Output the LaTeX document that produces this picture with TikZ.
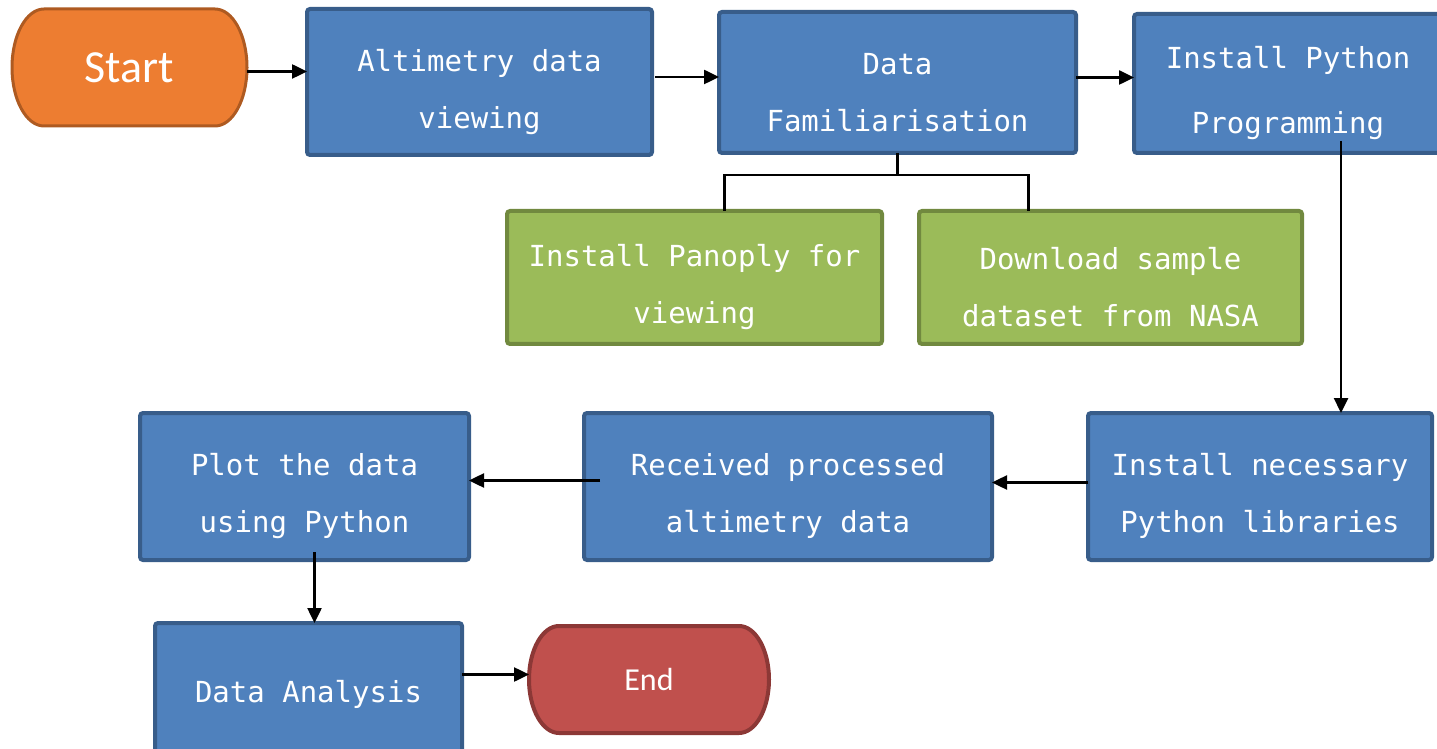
\documentclass[tikz,border=0pt]{standalone}
\usepackage{fontspec}
\setmainfont{DejaVu Sans Mono}
\newfontfamily\termfont{Carlito}
\usetikzlibrary{arrows.meta,shapes,backgrounds}
\definecolor{boxblue}{HTML}{4F81BD}
\definecolor{blueedge}{HTML}{385D8A}
\definecolor{boxgreen}{HTML}{9BBB59}
\definecolor{greenedge}{HTML}{71893F}
\definecolor{startorange}{HTML}{ED7D31}
\definecolor{startedge}{HTML}{AE5A21}
\definecolor{endred}{HTML}{C0504D}
\definecolor{endedge}{HTML}{8C3836}
\tikzset{
  flowbox/.style={
    rectangle, rounded corners=3pt, line width=4pt, text=white,
    align=center, inner sep=0pt, outer sep=0pt,
    font=\fontsize{29}{57}\selectfont,
  },
  %% two lines sit a bit low in the boxes
  twoline/.style={text height=#1},
  twoline/.default=99pt,
  bluebox/.style={flowbox, draw=blueedge, fill=boxblue},
  greenbox/.style={flowbox, twoline, draw=greenedge, fill=boxgreen},
  terminal/.style={rectangle, inner sep=0pt, outer sep=0pt, text=white},
  flowarrow/.style={-{Triangle[length=15pt,width=14pt]}, line width=2.5pt},
  forkline/.style={line width=2.5pt},
}

\begin{document}
\begin{tikzpicture}[x=1pt,y=1pt]
\path[use as bounding box, clip] (0,0) rectangle (1437,748);
% top row
\node [terminal, minimum width=235pt, minimum height=117pt, font=\termfont\fontsize{46}{50}\selectfont] (start) at (129.5,680.5) {Start};
\node [bluebox, twoline, minimum width=345pt, minimum height=146pt] (view) at (479.5,666) {Altimetry data\\viewing};
\node [bluebox, twoline, minimum width=357pt, minimum height=141pt] (famil) at (897.5,665.5) {Data\\Familiarisation};
\node [bluebox, twoline=107pt, minimum width=308pt, minimum height=139pt, font=\fontsize{29}{65}\selectfont] (python) at (1288,664.5) {Install Python\\Programming};
% sub tasks
\node [greenbox, minimum width=375pt, minimum height=133pt] (panoply) at (694.5,470.5) {Install Panoply for\\viewing};
\node [greenbox, minimum width=383pt, minimum height=133pt] (nasa) at (1110.5,470.5) {Download sample\\dataset from NASA};
% bottom rows
\node [bluebox, twoline, minimum width=344pt, minimum height=147pt] (libs) at (1260,261.5) {Install necessary\\Python libraries};
\node [bluebox, twoline, minimum width=408pt, minimum height=147pt] (received) at (788,261.5) {Received processed\\altimetry data};
\node [bluebox, twoline, minimum width=329pt, minimum height=147pt] (plot) at (304.5,261.5) {Plot the data\\using Python};
\node [bluebox, minimum width=307pt, minimum height=142pt] (analysis) at (308.5,54) {Data Analysis};
\node [terminal, minimum width=240pt, minimum height=107pt, font=\termfont\fontsize{32}{36}\selectfont] (end) at (649,68.5) {End};

\begin{scope}[on background layer]
\filldraw[fill=startorange, draw=startedge, line width=3pt]
  ([xshift=32pt]start.north west) -- ([xshift=-32pt]start.north east)
  arc[start angle=90, end angle=-90, x radius=32pt, y radius=58.5pt]
  -- ([xshift=32pt]start.south west)
  arc[start angle=270, end angle=90, x radius=32pt, y radius=58.5pt] -- cycle;
\filldraw[fill=endred, draw=endedge, line width=4pt]
  ([xshift=30pt]end.north west) -- ([xshift=-30pt]end.north east)
  arc[start angle=90, end angle=-90, x radius=30pt, y radius=53.5pt]
  -- ([xshift=30pt]end.south west)
  arc[start angle=270, end angle=90, x radius=30pt, y radius=53.5pt] -- cycle;
\end{scope}

% connectors
\draw[flowarrow] ([yshift=-4pt]start.east) -- ([yshift=-4pt]start.east -| view.west);
\draw[flowarrow] ([yshift=5pt,xshift=3pt]view.east) -- ([yshift=5pt]view.east -| famil.west);
\draw[flowarrow] ([yshift=5pt]famil.east) -- ([yshift=5pt]famil.east -| python.west);
\draw[flowarrow] ([xshift=53pt,yshift=12pt]python.south) -- ([xshift=53pt]python.south |- libs.north);
\draw[flowarrow] ([yshift=4pt]libs.west) -- ([yshift=4pt]libs.west -| received.east);
\draw[flowarrow] ([yshift=6pt,xshift=16pt]received.west) -- ([yshift=6pt]received.west -| plot.east);
\draw[flowarrow] ([xshift=10pt,yshift=8pt]plot.south) -- ([xshift=10pt]plot.south |- analysis.north);
\draw[flowarrow] ([yshift=5pt]end.west -| analysis.east) -- ([yshift=5pt]end.west);
\draw[forkline] (famil.south) -- ++(0,-22) coordinate (fork);
\draw[forkline] ([xshift=30pt]panoply.north) |- (fork) -| ([xshift=-82pt]nasa.north);
\end{tikzpicture}
\end{document}
